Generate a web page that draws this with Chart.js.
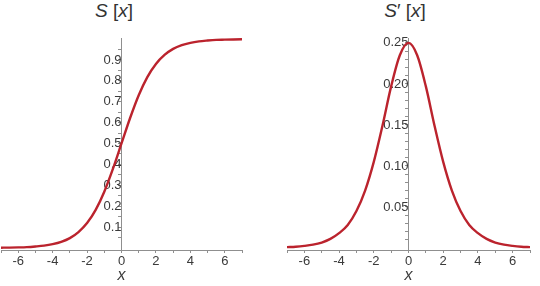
<!DOCTYPE html>
<html><head><meta charset="utf-8">
<script src="https://cdn.jsdelivr.net/npm/chart.js@4/dist/chart.umd.min.js"></script>
<style>
html,body{margin:0;padding:0;background:#fff;width:540px;height:286px;overflow:hidden}
.box{position:absolute;top:0;height:286px;width:250px}
.ttl{position:absolute;top:0px;font:19px "Liberation Sans",Arial,sans-serif;color:#333;white-space:nowrap;transform:translateX(-50%)}
</style></head><body>
<div class="ttl" style="left:114px"><i>S</i> [<i>x</i>]</div>
<div class="ttl" style="left:405px"><i>S</i>′ [<i>x</i>]</div>
<div class="box" style="left:0"><canvas id="c1" width="250" height="286"></canvas></div>
<div class="box" style="left:286px"><canvas id="c2" width="250" height="286"></canvas></div>
<script>
const xValues = [-7,-6.5,-6,-5.5,-5,-4.5,-4,-3.5,-3,-2.5,-2,-1.5,-1,-0.5,0,0.5,1,1.5,2,2.5,3,3.5,4,4.5,5,5.5,6,6.5,7];
// S[x] values
const sValues = [0.001,0.0015,0.0025,0.004,0.007,0.011,0.018,0.029,0.047,0.076,0.119,0.182,0.269,0.378,0.5,0.622,0.731,0.818,0.881,0.924,0.953,0.971,0.982,0.989,0.993,0.996,0.997,0.998,0.999];
// S'[x] values
const dValues = [0.001,0.0015,0.0025,0.004,0.0066,0.011,0.018,0.028,0.045,0.07,0.105,0.149,0.197,0.235,0.25,0.235,0.197,0.149,0.105,0.07,0.045,0.028,0.018,0.011,0.0066,0.004,0.0025,0.0015,0.001];

// tick positions and labels
const xTickValues = [-7,-6,-5,-4,-3,-2,-1,0,1,2,3,4,5,6,7];
const xTickLabels = ['','-6','','-4','','-2','','0','','2','','4','','6',''];
const leftYTickValues = [0.05,0.1,0.15,0.2,0.25,0.3,0.35,0.4,0.45,0.5,0.55,0.6,0.65,0.7,0.75,0.8,0.85,0.9,0.95];
const leftYTickLabels = ['','0.1','','0.2','','0.3','','0.4','','0.5','','0.6','','0.7','','0.8','','0.9',''];
const rightYTickValues = [0.01,0.02,0.03,0.04,0.05,0.06,0.07,0.08,0.09,0.10,0.11,0.12,0.13,0.14,0.15,0.16,0.17,0.18,0.19,0.20,0.21,0.22,0.23,0.24,0.25];
const rightYTickLabels = ['','','','','0.05','','','','','0.10','','','','','0.15','','','','','0.20','','','','','0.25'];

const FONT = '"Liberation Sans", Arial, sans-serif';
const AXIS = '#8f8f8f';
const TEXT = '#3a3a3a';
const LINE = '#bb232d';

function makeChart(id, yData, yMin, yMax, yTicks, yLabels, padRight) {
  return new Chart(document.getElementById(id), {
    type: 'line',
    data: {
      datasets: [{
        data: xValues.map((x, i) => ({x: x, y: yData[i]})),
        borderColor: LINE,
        borderWidth: 2.4,
        pointRadius: 0,
        fill: false,
        cubicInterpolationMode: 'monotone'
      }]
    },
    options: {
      responsive: false,
      animation: false,
      layout: {padding: {top: 38, right: padRight, left: 0, bottom: 0}},
      plugins: {legend: {display: false}, tooltip: {enabled: false}, title: {display: false}},
      scales: {
        x: {
          type: 'linear', position: 'bottom', min: -7, max: 7,
          border: {color: AXIS, width: 1},
          grid: {drawOnChartArea: false, drawTicks: true, tickLength: 3, color: AXIS},
          afterBuildTicks: s => { s.ticks = xTickValues.map(v => ({value: v})); },
          afterFit: s => { s.height = 36; },
          ticks: {autoSkip: false, maxRotation: 0, padding: 1, color: TEXT,
                  font: {family: FONT, size: 13},
                  callback: (v, i) => xTickLabels[i]},
          title: {display: true, text: 'x', color: TEXT,
                  font: {family: FONT, size: 16, style: 'italic'},
                  padding: {top: 0, bottom: 1}}
        },
        y: {
          type: 'linear', position: {x: 0}, min: yMin, max: yMax,
          border: {color: AXIS, width: 1},
          grid: {drawOnChartArea: false, drawTicks: true, tickLength: 3, color: AXIS},
          afterBuildTicks: s => { s.ticks = yTicks.map(v => ({value: v})); },
          ticks: {autoSkip: false, padding: 2, color: TEXT,
                  font: {family: FONT, size: 13},
                  callback: (v, i) => yLabels[i]}
        }
      }
    }
  });
}

makeChart('c1', sValues, -0.01, 1.005, leftYTickValues, leftYTickLabels, 8);
makeChart('c2', dValues, -0.0025, 0.256, rightYTickValues, rightYTickLabels, 6);
</script>
</body></html>
